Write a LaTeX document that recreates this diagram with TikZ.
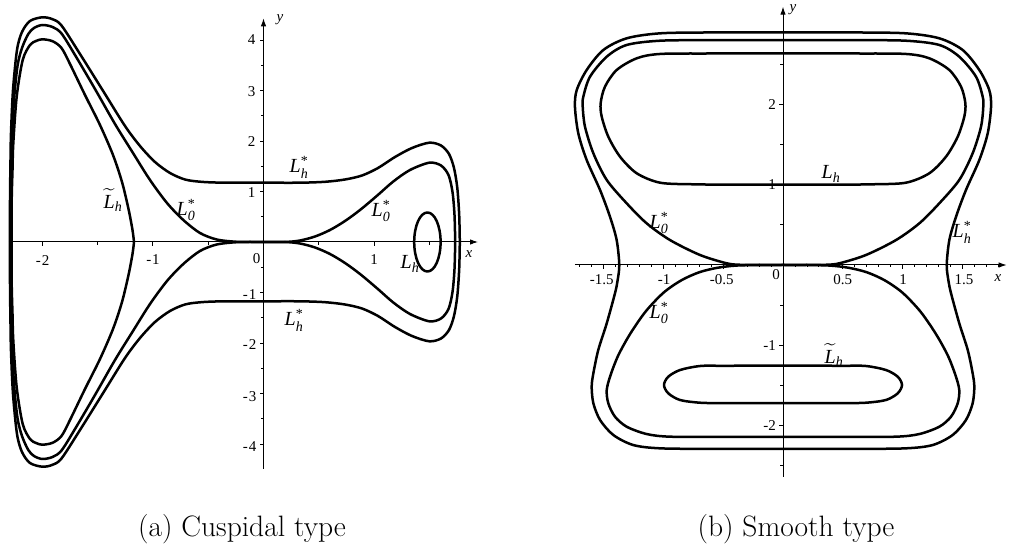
\documentclass[tikz,border=0pt]{standalone}
\usepackage{fontspec}
\usepackage{amsmath}
\newfontfamily\tms{Liberation Serif}
\usetikzlibrary{arrows.meta}
\newcommand{\Ls}[1]{$\text{\tms\itshape L}^{\text{\tms *}}_{\text{\tms\itshape #1}}$}
\newcommand{\Lp}[1]{$\text{\tms\itshape L}_{\text{\tms\itshape #1}}$}
\newcommand{\Lt}{$\widetilde{\text{\tms\itshape L}}_{\text{\tms\itshape h}}$}
\begin{document}
\begin{tikzpicture}[x=1pt,y=1pt,
  curve/.style={line width=2.5pt,line join=round},
  axisline/.style={line width=1pt,-{Latex[length=8pt,width=5.5pt]}},
  tickline/.style={line width=0.8pt},
  ticklab/.style={font=\tms\fontsize{15}{17}\selectfont,inner sep=0pt},
  curvelab/.style={font=\fontsize{20}{22}\selectfont,inner sep=0pt},
  captionlab/.style={font=\fontsize{29.5}{32}\selectfont,inner sep=0pt,anchor=base}]
\useasboundingbox (0,0) rectangle (1009,549);
% ---------------- (a) cuspidal ----------------
\begin{scope}[shift={(263.5,307)},x=110.7pt,y=50.5pt]
  \draw[axisline] (-2.29,0) -- (1.938,0);
  \draw[axisline] (0,-4.495) -- (0,4.43);
  \foreach \t in {-2,-1,1} \draw[tickline] (\t,0) -- ++(0,-4pt);
  \foreach \t in {-1.5,-0.5,0.5,1.5} \draw[tickline] (\t,0) -- ++(0,-3pt);
  \foreach \t in {-4,-3,-2,-1,1,2,3,4} \draw[tickline] (0,\t) -- ++(-4pt,0);
  \foreach \t in {-3.5,-2.5,-1.5,-0.5,0.5,1.5,2.5,3.5} \draw[tickline] (0,\t) -- ++(-3pt,0);
\end{scope}
\begin{scope}[shift={(263.5,307)}]
  \foreach \s in {1,-1}{
  \begin{scope}[yscale=\s]
    % outer L_h^*
    \draw[curve] plot[smooth] coordinates {(-253.5,0) (-253.5,42) (-253,82) (-252.5,109) (-250.5,152) (-246.5,192) (-241.5,210) (-233.5,221) (-221.2,224.7) (-211,222.8) (-202,216.5) (-183.5,188) (-158.5,148) (-138.5,116) (-123.5,96) (-108.5,80) (-93.5,69) (-78.5,62.5) (-63.5,60.3) (-43.5,59.4) (0,59.3) (36.5,59.3) (61.5,60.2) (81.5,62.5) (98.5,66.5) (114.5,74) (131.5,85) (148.5,94) (165.8,99.3) (177.5,96.5) (185.5,88) (190.5,74) (193.8,54) (195.7,27) (196.3,0)};
    % middle L_0^* left
    \draw[curve] plot[smooth] coordinates {(-252.8,0) (-252.8,42) (-252.2,77) (-251.5,102) (-249.5,142) (-246,176) (-241.5,194) (-235.2,208) (-229.5,214) (-221.2,217) (-211,215) (-202,208.5) (-188.5,187) (-168.5,153) (-148.5,118) (-130.5,89) (-113.5,62) (-96.5,39) (-80.2,22) (-63.5,9) (-46.8,2.5) (-28.5,0.3) (-13.5,0) (0,0)};
    % middle L_0^* right
    \draw[curve] plot[smooth] coordinates {(0,0) (21.5,0) (36.5,1.5) (51.5,5.5) (66.5,12) (81.5,21) (96.5,32) (113.2,46) (129.8,60.5) (146.5,72) (165.8,79.3) (177.5,76.5) (185,67) (189,50) (191,27) (191.7,0)};
    % inner tilde L_h
    \draw[curve] plot[smooth] coordinates {(-251.8,0) (-251.8,42) (-251,72) (-250.2,98.7) (-246.8,145.3) (-240.8,182) (-233.5,197) (-227.5,201) (-221.2,202.7) (-211,200.8) (-202,194) (-193.5,178) (-178.5,147) (-163.5,117) (-150.5,87) (-141.5,60) (-135,33) (-131,12) (-129.5,0)};
  \end{scope}}
  % small loop L_h
  \draw[curve] (163.9,0) ellipse [x radius=13.2,y radius=29.5];
\end{scope}
% tick labels (a)
\node[ticklab] (ax1) at (42.7,288.3) {-\kern1pt2};
\node[ticklab] (ax2) at (153,289) {-\kern1pt1};
\node[ticklab] (ax3) at (256.7,290.7) {0};
\node[ticklab] (ax4) at (374,289) {1};
\node[ticklab] (ax5) at (469,295) {\itshape x};
\node[ticklab,anchor=east] (ay4) at (255.5,509) {4};
\node[ticklab,anchor=east] (ay3) at (255.5,457.3) {3};
\node[ticklab,anchor=east] (ay2) at (255.5,407.3) {2};
\node[ticklab,anchor=east] (ay1) at (255.5,356.3) {1};
\node[ticklab,anchor=east] (aym1) at (256.5,254) {-\kern1pt1};
\node[ticklab,anchor=east] (aym2) at (256.5,204) {-\kern1pt2};
\node[ticklab,anchor=east] (aym3) at (256.5,152.3) {-\kern1pt3};
\node[ticklab,anchor=east] (aym4) at (256.5,102.3) {-\kern1pt4};
\node[ticklab] (ayy) at (280,529) {\itshape y};
% curve labels (a)
\node[curvelab] (la1) at (299,382) {\Ls{h}};
\node[curvelab] (la2) at (294,229) {\Ls{h}};
\node[curvelab] (la3) at (113,349) {\Lt};
\node[curvelab] (la4) at (186,339) {\Ls{0}};
\node[curvelab] (la5) at (381,338) {\Ls{0}};
\node[curvelab] (la6) at (410,285) {\Lp{h}};
% ---------------- (b) smooth ----------------
\begin{scope}[shift={(783,284)},x=119.5pt,y=80.3pt]
  \draw[axisline] (-1.741,0) -- (1.872,0);
  \draw[axisline] (0,-2.64) -- (0,3.217);
  \foreach \t in {-1.7,-1.6,-1.4,-1.3,-1.2,-1.1,-0.9,-0.8,-0.7,-0.6,-0.4,-0.3,-0.2,-0.1,0.1,0.2,0.3,0.4,0.6,0.7,0.8,0.9,1.1,1.2,1.3,1.4,1.6,1.7,1.8}
    \draw[tickline] (\t,0) -- ++(0,-2.5pt);
  \foreach \t in {-1.5,-1,-0.5,0.5,1,1.5} \draw[tickline] (\t,0) -- ++(0,-4pt);
  \foreach \t in {-2,-1,1,2} \draw[tickline] (0,\t) -- ++(-4pt,0);
  \foreach \t in {-2.5,-1.5,-0.5,0.5,1.5,2.5} \draw[tickline] (0,\t) -- ++(-3pt,0);
  \foreach \s in {1,-1}{
  \begin{scope}[xscale=\s]
    % outer L_h^*
    \draw[curve] plot[smooth] coordinates {(0,2.898) (-0.6,2.896) (-1.029,2.885) (-1.308,2.823) (-1.504,2.677) (-1.643,2.428) (-1.726,2.179) (-1.741,1.971) (-1.713,1.640) (-1.643,1.308) (-1.531,0.934) (-1.448,0.602) (-1.392,0.311) (-1.37,0.0) (-1.385,-0.2) (-1.406,-0.352) (-1.475,-0.726) (-1.546,-1.059) (-1.587,-1.349) (-1.601,-1.516) (-1.587,-1.722) (-1.531,-1.930) (-1.420,-2.117) (-1.253,-2.242) (-1.029,-2.283) (-0.6,-2.29) (0,-2.29)};
    % L_0^* upper loop
    \draw[curve] plot[smooth] coordinates {(0,0) (-0.2,0) (-0.36,0.003) (-0.471,0.021) (-0.695,0.125) (-0.946,0.311) (-1.141,0.519) (-1.308,0.768) (-1.475,1.059) (-1.587,1.391) (-1.657,1.722) (-1.676,1.971) (-1.671,2.096) (-1.615,2.345) (-1.475,2.594) (-1.308,2.740) (-1.029,2.793) (-0.6,2.8) (0,2.8)};
    % L_0^* lower loop
    \draw[curve] plot[smooth] coordinates {(0,0) (-0.2,0) (-0.4,-0.008) (-0.55,-0.035) (-0.7,-0.09) (-0.85,-0.19) (-1.0,-0.345) (-1.15,-0.58) (-1.28,-0.86) (-1.38,-1.13) (-1.445,-1.38) (-1.475,-1.557) (-1.462,-1.722) (-1.406,-1.889) (-1.308,-2.014) (-1.141,-2.105) (-0.946,-2.138) (-0.5,-2.14) (0,-2.14)};
    % L_h upper
    \draw[curve] plot[smooth] coordinates {(0,2.636) (-0.6,2.634) (-1.029,2.628) (-1.224,2.574) (-1.392,2.428) (-1.490,2.220) (-1.526,2.014) (-1.517,1.847) (-1.462,1.598) (-1.364,1.349) (-1.224,1.142) (-1.029,1.025) (-0.75,1.005) (-0.4,1.0) (0,1.0)};
    % tilde L_h lower
    \draw[curve] plot[smooth] coordinates {(0,-1.254) (-0.5,-1.255) (-0.695,-1.258) (-0.862,-1.308) (-0.960,-1.391) (-0.996,-1.494) (-0.960,-1.598) (-0.862,-1.681) (-0.695,-1.715) (-0.5,-1.72) (0,-1.72)};
  \end{scope}}
\end{scope}
% tick labels (b)
\node[ticklab] (bx1) at (601.7,269) {-1.5};
\node[ticklab] (bx2) at (664,269) {-1};
\node[ticklab] (bx3) at (721.7,269) {-0.5};
\node[ticklab] (bx4) at (776,274) {0};
\node[ticklab] (bx5) at (842.7,269) {0.5};
\node[ticklab] (bx6) at (903,269) {1};
\node[ticklab] (bx7) at (964,269) {1.5};
\node[ticklab] (bx8) at (998,271) {\itshape x};
\node[ticklab,anchor=east] (by2) at (776,444.7) {2};
\node[ticklab,anchor=east] (by1) at (776,364) {1};
\node[ticklab,anchor=east] (bym1) at (776,203.3) {-1};
\node[ticklab,anchor=east] (bym2) at (776,123) {-2};
\node[ticklab] (byy) at (793,539) {\itshape y};
% curve labels (b)
\node[curvelab] (lb1) at (831,375) {\Lp{h}};
\node[curvelab] (lb2) at (962,317) {\Ls{h}};
\node[curvelab] (lb3) at (659,326) {\Ls{0}};
\node[curvelab] (lb4) at (659,236) {\Ls{0}};
\node[curvelab] (lb5) at (834,194) {\Lt};
% captions
\node[captionlab] (capa) at (242,13) {(a) Cuspidal type};
\node[captionlab] (capb) at (796,13) {(b) Smooth type};
\end{tikzpicture}
\end{document}
